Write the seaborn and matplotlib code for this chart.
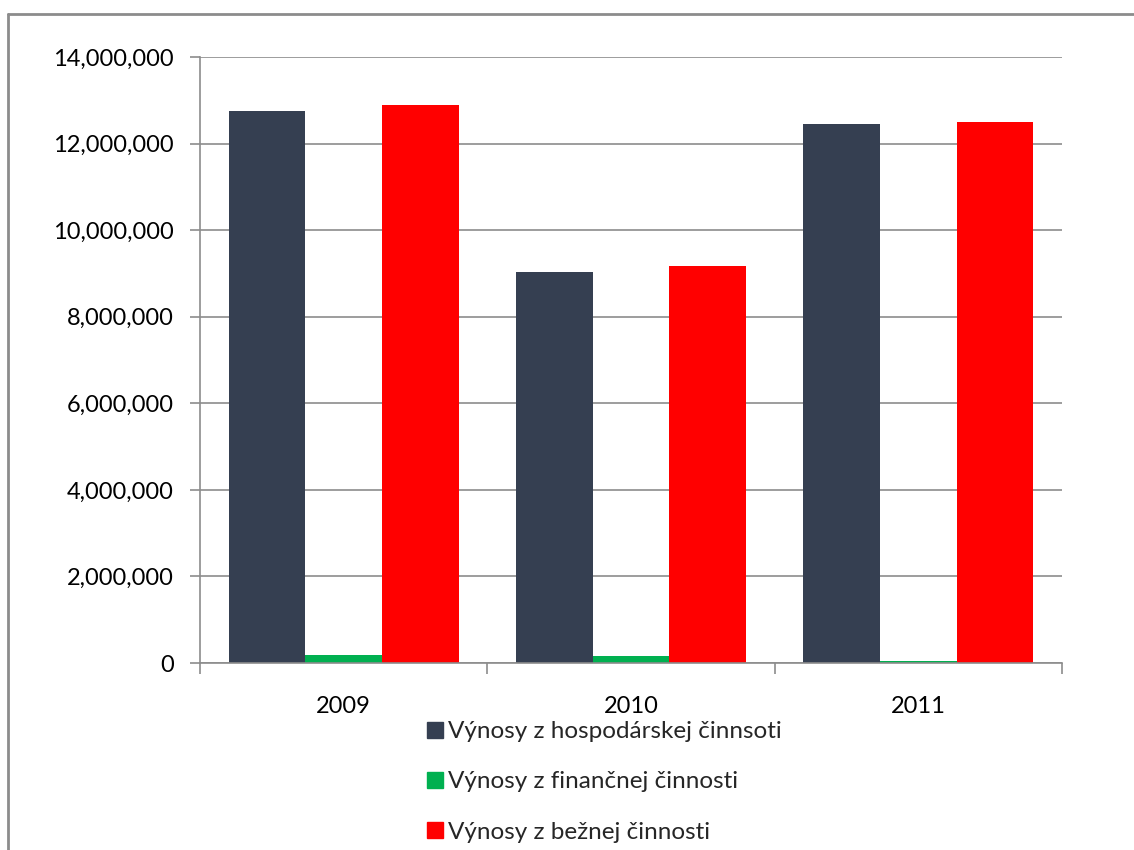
import matplotlib
matplotlib.use("Agg")
import matplotlib.pyplot as plt
from matplotlib.lines import Line2D
from matplotlib.ticker import FuncFormatter, MultipleLocator
import seaborn as sns
import pandas as pd

years = ["2009", "2010", "2011"]
series = [
    "Výnosy z hospodárskej činnsoti",
    "Výnosy z finančnej činnosti",
    "Výnosy z bežnej činnosti",
]
hospodarska = [12750000, 9030000, 12450000]
financna = [185000, 160000, 45000]
bezna = [12900000, 9170000, 12500000]
colors = ["#353F51", "#00B050", "#FF0000"]

df = pd.DataFrame({
    "rok": years * 3,
    "séria": [series[0]] * 3 + [series[1]] * 3 + [series[2]] * 3,
    "hodnota": hospodarska + financna + bezna,
})

sns.set_theme(style="white")
plt.rcParams["font.family"] = ["Lato", "DejaVu Sans"]

fig = plt.figure(figsize=(11.34, 8.5), dpi=100)
ax = fig.add_axes([200 / 1134, 1 - 663 / 850, 862 / 1134, 606 / 850])

sns.barplot(
    data=df, x="rok", y="hodnota", hue="séria", palette=colors,
    width=0.8, ax=ax, saturation=1, legend=False,
)
for bar in ax.patches:
    bar.set_edgecolor("none")

ax.set_xlim(-0.5, 2.5)
ax.set_ylim(0, 14000000)
ax.yaxis.set_major_locator(MultipleLocator(2000000))
ax.yaxis.set_major_formatter(FuncFormatter(lambda v, _: f"{int(v):,}"))
ax.set_xlabel("")
ax.set_ylabel("")

ax.grid(axis="y", color="#8c8c8c", linewidth=1.2)
ax.set_axisbelow(True)
for side in ["top", "right"]:
    ax.spines[side].set_visible(False)
for side in ["left", "bottom"]:
    ax.spines[side].set_color("#8c8c8c")
    ax.spines[side].set_linewidth(1.2)

ax.tick_params(axis="y", left=True, length=7, width=1.2, color="#8c8c8c",
               labelsize=17, labelcolor="black", pad=12)
ax.tick_params(axis="x", bottom=False, labelsize=17, labelcolor="black", pad=18)
# category separator ticks on the x axis
ax.set_xticks([-0.5, 0.5, 1.5, 2.5], minor=True)
ax.tick_params(axis="x", which="minor", bottom=True, length=8, width=1.2,
               color="#8c8c8c", direction="out")

handles = [Line2D([], [], marker="s", linestyle="none", markersize=11,
                  markerfacecolor=c, markeredgecolor=c) for c in colors]
fig.legend(handles, series, loc="upper left",
           bbox_to_anchor=(414 / 1134, 1 - 709 / 850), frameon=False,
           fontsize=17.5, handlelength=0.7, handletextpad=0.2,
           labelspacing=1.2, borderpad=0)

# outer chart frame
fig.add_artist(Line2D([8 / 1134, 1.0], [1 - 14 / 850, 1 - 14 / 850],
                      transform=fig.transFigure, color="#8c8c8c", linewidth=2))
fig.add_artist(Line2D([8 / 1134, 8 / 1134], [0.0, 1 - 14 / 850],
                      transform=fig.transFigure, color="#8c8c8c", linewidth=2))

fig.savefig("out.png", dpi=100)
